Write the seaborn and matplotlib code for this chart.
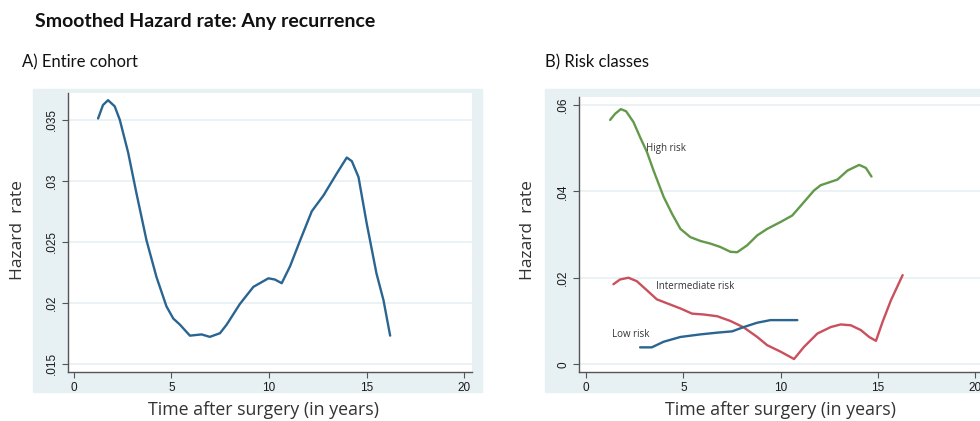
import matplotlib
matplotlib.use("Agg")
import matplotlib.pyplot as plt
from matplotlib.patches import Rectangle
import seaborn as sns
import pandas as pd

# Panel A: entire cohort
cohort_years = [1.25, 1.5, 1.76, 2.1, 2.36, 2.79, 3.21, 3.73, 4.24, 4.75, 5.1, 5.44, 5.95,
                6.55, 6.97, 7.49, 7.83, 8.51, 9.2, 9.97, 10.3, 10.65, 11.08, 11.59, 12.19,
                12.79, 13.47, 13.98, 14.24, 14.58, 15.0, 15.5, 15.86, 16.2]
cohort_hazard = [0.0351, 0.0362, 0.0366, 0.0361, 0.035, 0.0323, 0.029, 0.0251, 0.0221,
                 0.0197, 0.0187, 0.0182, 0.0173, 0.0174, 0.0172, 0.0175, 0.0182, 0.0199,
                 0.0213, 0.022, 0.0219, 0.0216, 0.023, 0.0251, 0.0275, 0.0288, 0.0306,
                 0.0319, 0.0316, 0.0303, 0.0265, 0.0224, 0.0202, 0.0173]

# Panel B: risk classes
high_years = [1.24, 1.49, 1.79, 2.06, 2.44, 2.78, 3.13, 3.47, 3.99, 4.42, 4.85, 5.36, 5.88,
              6.39, 6.91, 7.42, 7.77, 8.28, 8.8, 9.31, 10.0, 10.6, 11.2, 11.72, 12.06,
              12.92, 13.44, 14.04, 14.38, 14.67]
high_hazard = [0.0565, 0.0579, 0.059, 0.0585, 0.056, 0.0525, 0.0491, 0.0448, 0.0387, 0.0348,
               0.0313, 0.0294, 0.0285, 0.0279, 0.0271, 0.026, 0.0259, 0.0275, 0.0298, 0.0313,
               0.0329, 0.0344, 0.0375, 0.0402, 0.0414, 0.0427, 0.0448, 0.0461, 0.0454, 0.0434]

mid_years = [1.41, 1.75, 2.18, 2.61, 3.13, 3.64, 4.33, 4.85, 5.45, 6.05, 6.74, 7.42, 8.11,
             8.8, 9.31, 10.0, 10.69, 11.2, 11.89, 12.58, 13.09, 13.61, 14.12, 14.55, 14.9,
             15.24, 15.67, 16.27]
mid_hazard = [0.0185, 0.0196, 0.02, 0.0192, 0.0171, 0.015, 0.0138, 0.0129, 0.0117, 0.0115,
              0.0111, 0.01, 0.0085, 0.0063, 0.0044, 0.0029, 0.0012, 0.004, 0.0071, 0.0086,
              0.0092, 0.009, 0.0079, 0.0063, 0.0054, 0.0098, 0.0148, 0.0206]

low_years = [2.78, 3.38, 3.99, 4.85, 5.88, 6.74, 7.51, 8.11, 8.8, 9.48, 10.17, 10.86]
low_hazard = [0.0039, 0.0039, 0.0052, 0.0063, 0.0069, 0.0073, 0.0076, 0.0086, 0.0096,
              0.0102, 0.0102, 0.0102]

left_ticks = [0.015, 0.02, 0.025, 0.03, 0.035]
left_ticklabels = [".015", ".02", ".025", ".03", ".035"]
right_ticks = [0, 0.02, 0.04, 0.06]
right_ticklabels = ["0", ".02", ".04", ".06"]
x_ticks = [0, 5, 10, 15, 20]

sns.set_style("white")
plt.rcParams["font.family"] = ["Liberation Sans", "DejaVu Sans"]

BG = "#e7f0f3"
GRID = "#e8f0f3"
SPINE = "#555555"
C_BLUE = "#2a6592"
C_GREEN = "#63994a"
C_RED = "#c9505c"

fig = plt.figure(figsize=(9.8, 4.21), dpi=100)

# light bluish graph regions (Stata style)
fig.patches.append(Rectangle((33 / 980, 1 - 392 / 421), 449 / 980, 303 / 421,
                             transform=fig.transFigure, color=BG, zorder=-5))
fig.patches.append(Rectangle((545 / 980, 1 - 392 / 421), 440 / 980, 303 / 421,
                             transform=fig.transFigure, color=BG, zorder=-5))

ax1 = fig.add_axes([68 / 980, 1 - 372 / 421, 404 / 980, 279 / 421])
ax2 = fig.add_axes([579 / 980, 1 - 372 / 421, 404 / 980, 275 / 421])


def style_axis(ax, ticks, ticklabels, ylim):
    ax.set_facecolor("white")
    ax.set_xlim(-0.29, 20.39)
    ax.set_ylim(*ylim)
    ax.set_xticks(x_ticks)
    ax.set_xticklabels([str(t) for t in x_ticks], fontsize=8.5, color="#1a1a1a")
    ax.set_yticks(ticks)
    ax.set_yticklabels(ticklabels, fontsize=8.5, color="#1a1a1a", rotation=90, va="center")
    for t in ticks:
        ax.axhline(t, color=GRID, lw=1.2, zorder=0)
    for s in ["top", "right"]:
        ax.spines[s].set_visible(False)
    for s in ["left", "bottom"]:
        ax.spines[s].set_color(SPINE)
        ax.spines[s].set_linewidth(1.0)
    ax.tick_params(axis="both", length=4, width=0.8, color=SPINE, direction="out", pad=3,
                   left=True, bottom=True)
    ax.set_xlabel("")
    ax.set_ylabel("")


df_a = pd.DataFrame({"year": cohort_years, "hazard": cohort_hazard})
sns.lineplot(data=df_a, x="year", y="hazard", ax=ax1, color=C_BLUE, lw=1.7, sort=False)
style_axis(ax1, left_ticks, left_ticklabels, (0.01432, 0.03719))

df_h = pd.DataFrame({"year": high_years, "hazard": high_hazard})
df_m = pd.DataFrame({"year": mid_years, "hazard": mid_hazard})
df_l = pd.DataFrame({"year": low_years, "hazard": low_hazard})
sns.lineplot(data=df_h, x="year", y="hazard", ax=ax2, color=C_GREEN, lw=1.7, sort=False)
sns.lineplot(data=df_m, x="year", y="hazard", ax=ax2, color=C_RED, lw=1.7, sort=False)
sns.lineplot(data=df_l, x="year", y="hazard", ax=ax2, color=C_BLUE, lw=1.7, sort=False)
style_axis(ax2, right_ticks, right_ticklabels, (-0.0018, 0.0618))
ax2.set_xlim(-0.36, 20.4)

lbl_font = ["Open Sans", "DejaVu Sans"]
ax2.text(3.07, 0.0500, "High risk", fontsize=7, color="#333333", va="center", family=lbl_font)
ax2.text(3.61, 0.0179, "Intermediate risk", fontsize=7, color="#333333", va="center", family=lbl_font)
ax2.text(1.32, 0.0069, "Low risk", fontsize=7, color="#333333", va="center", family=lbl_font)

# axis titles
for cx, cy in [(18, 230), (528, 230)]:
    fig.text(cx / 980, 1 - cy / 421, "Hazard  rate", rotation=90, ha="center", va="center",
             fontsize=12.5, color="#333333", family=lbl_font)
for cx in [263, 780]:
    fig.text(cx / 980, 1 - 410 / 421, "Time after surgery (in years)", ha="center", va="center",
             fontsize=12.8, color="#333333", family=lbl_font)

title_font = ["Lato", "DejaVu Sans"]
fig.text(35 / 980, 1 - 22 / 421, "Smoothed Hazard rate: Any recurrence", ha="left", va="center",
         fontsize=14, fontweight="bold", color="#111111", family=title_font)
fig.text(22 / 980, 1 - 62 / 421, "A) Entire cohort", ha="left", va="center",
         fontsize=12, color="#111111", family=title_font)
fig.text(545 / 980, 1 - 62 / 421, "B) Risk classes", ha="left", va="center",
         fontsize=12, color="#111111", family=title_font)

fig.savefig("out.png", dpi=100)
